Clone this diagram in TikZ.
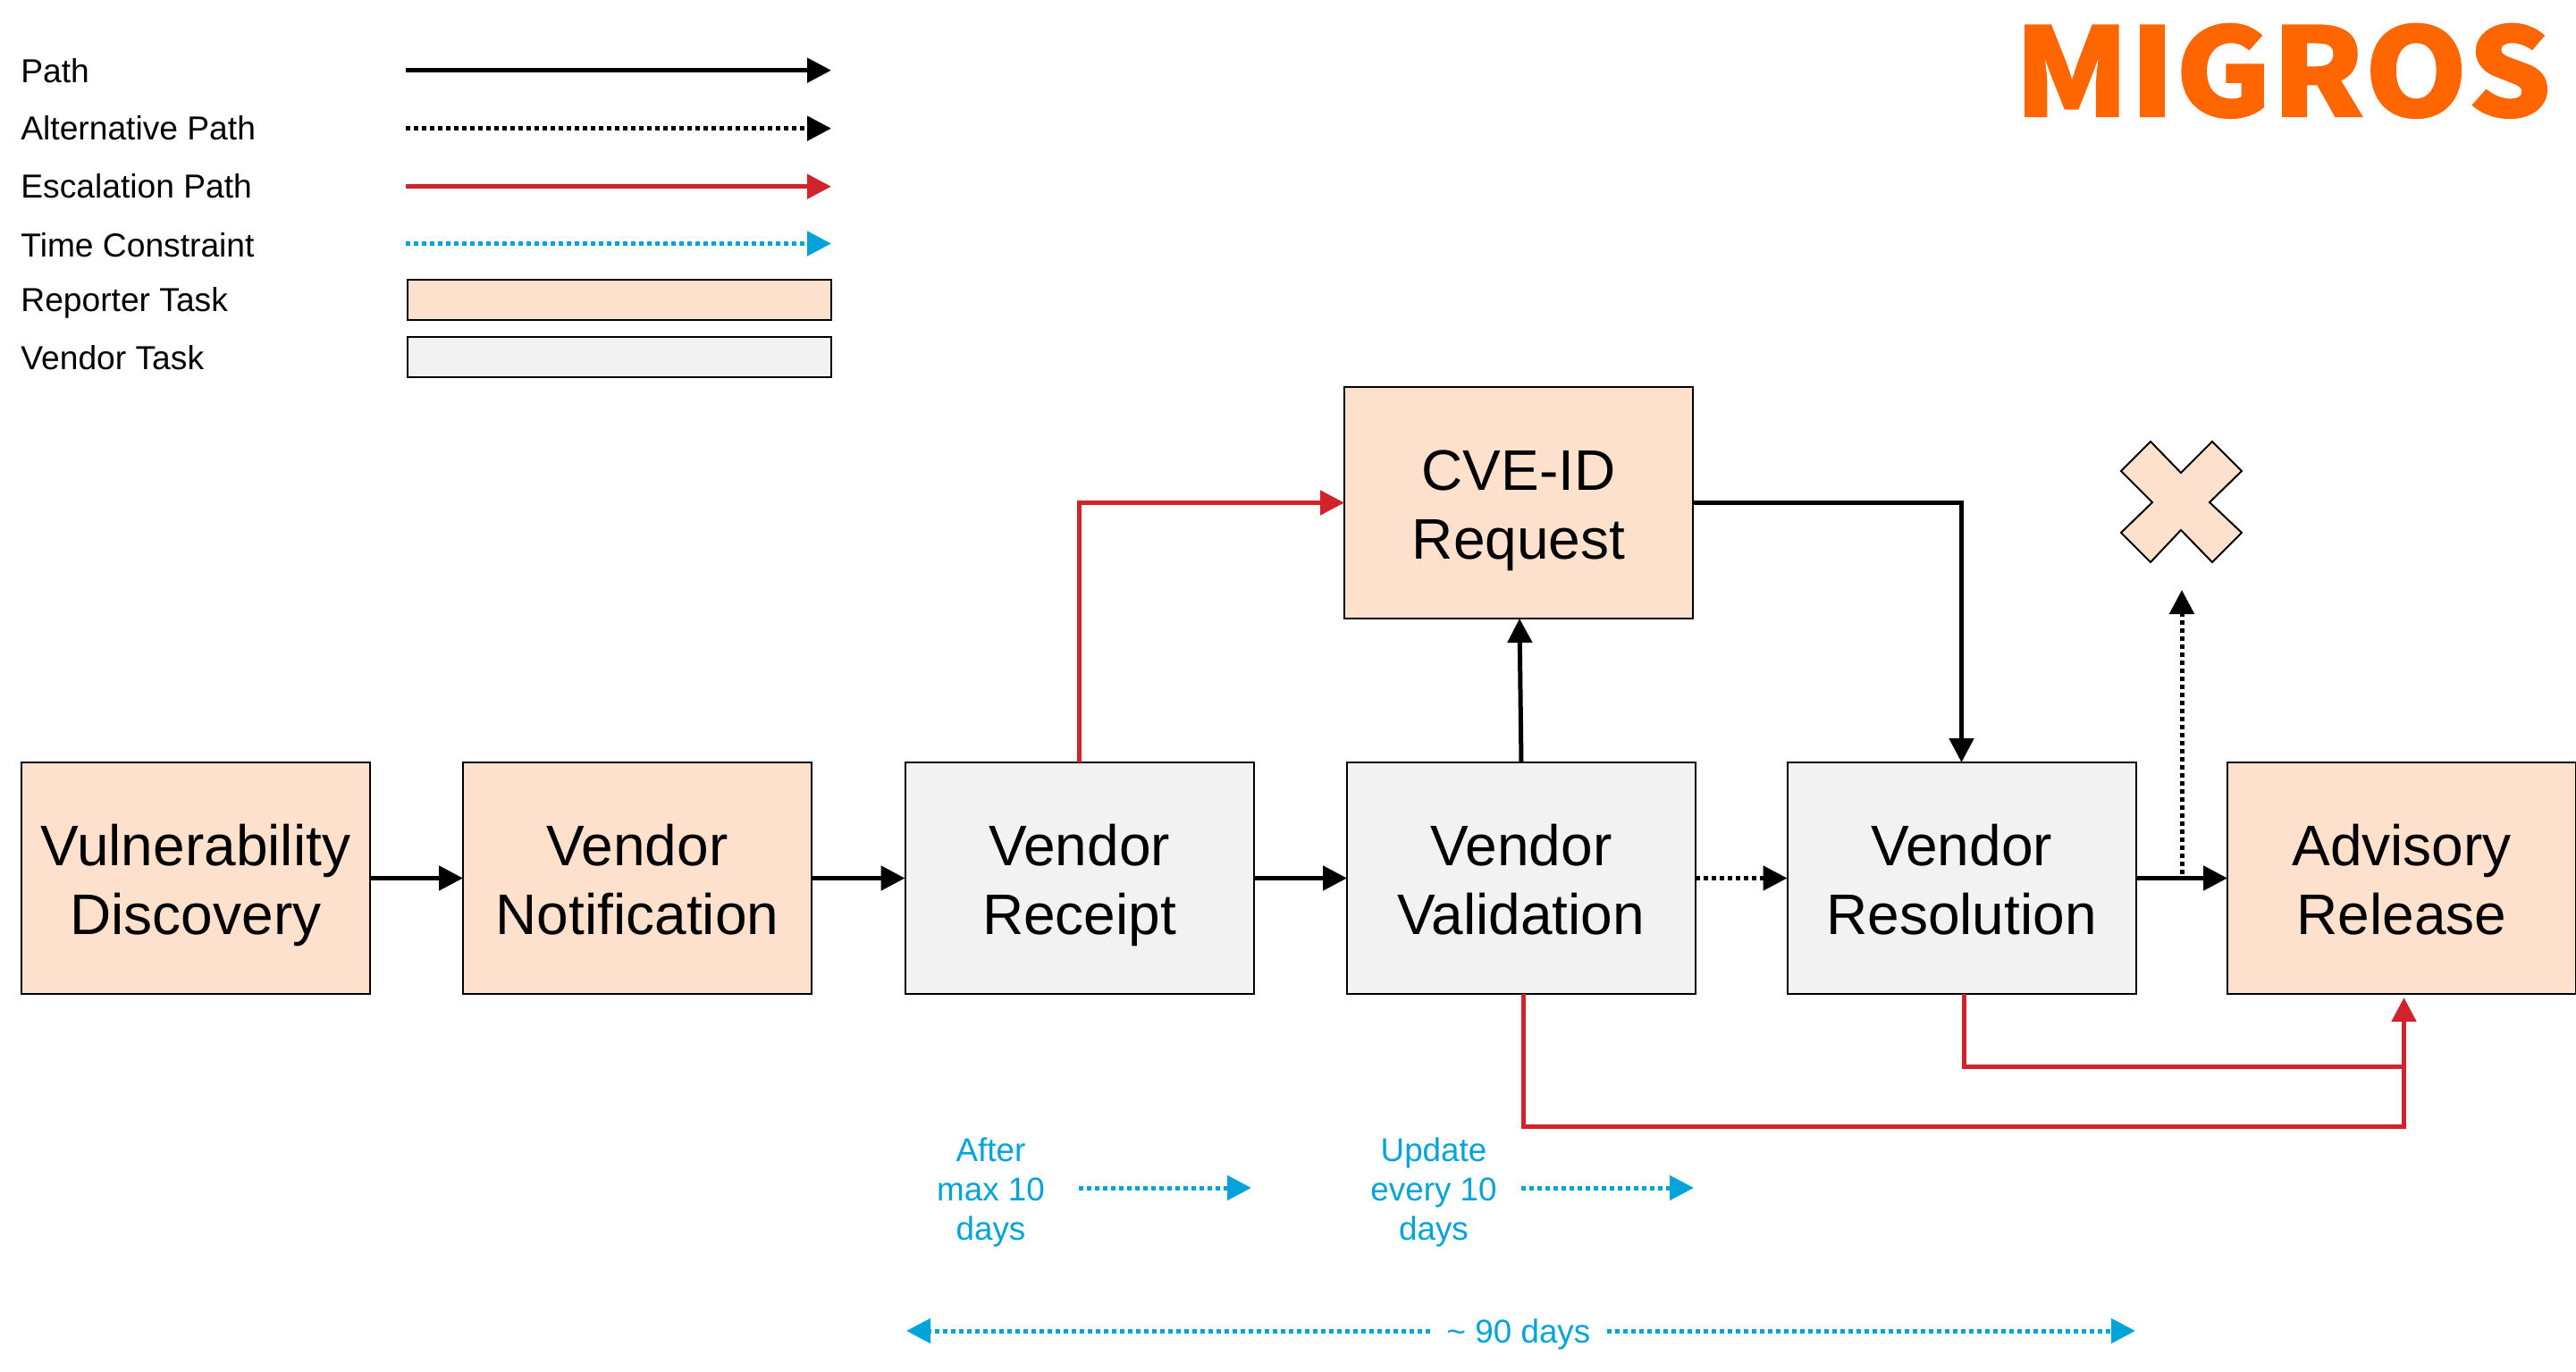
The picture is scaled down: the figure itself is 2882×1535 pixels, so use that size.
\documentclass[tikz,border=0pt]{standalone}
\usepackage{fontspec}
\setmainfont{Liberation Sans}
\usetikzlibrary{arrows.meta}
\definecolor{peach}{HTML}{FEE1CD}
\definecolor{vgray}{HTML}{F2F2F2}
\definecolor{redp}{HTML}{D0232B}
\definecolor{bluep}{HTML}{00A3DA}
\definecolor{orangem}{HTML}{FF6600}
\newcommand\hs{\rule{0pt}{33pt}}
\newcommand\ds{\rule[-8.4pt]{0pt}{8.4pt}}
\tikzset{
  x=0.5pt,y=-0.5pt,
  tip/.style={-{Triangle[length=13.5pt,width=13.5pt]}},
  pathline/.style={tip,line width=2.5pt,black},
  altline/.style={tip,line width=2.5pt,black,dash pattern=on 2.6pt off 1.9pt},
  escline/.style={tip,line width=2.5pt,redp},
  timeline/.style={tip,line width=2.5pt,bluep,dash pattern=on 2.6pt off 1.9pt},
  taskbox/.style={draw=black,line width=1pt,minimum width=195pt,minimum height=129.5pt,inner sep=0pt,outer sep=0pt,align=center,font=\fontsize{32}{38.5}\selectfont},
  reporter/.style={taskbox,fill=peach},
  vendor/.style={taskbox,fill=vgray},
  legtext/.style={anchor=base west,inner sep=0pt,font=\fontsize{18.6}{22}\selectfont},
  legbox/.style={draw=black,line width=1pt,minimum width=237pt,minimum height=22.5pt,inner sep=0pt,outer sep=0pt},
  timetext/.style={inner sep=0pt,align=center,text=bluep,font=\fontsize{18.4}{22}\selectfont},
}
\begin{document}
\begin{tikzpicture}
\useasboundingbox (0,0) rectangle (2882,1535);
% logo
\node[anchor=north west,inner sep=0pt,text=orangem] (logo) at (2253,26)
  {\resizebox{300.5pt}{52pt}{\fontspec{Noto Sans CJK SC Black}[FakeBold=1.2]MIGROS}};
% legend texts
\node[legtext] (l1) at (23,92.8) {Path};
\node[legtext] (l2) at (23,157) {Alternative Path};
\node[legtext] (l3) at (23,222) {Escalation Path};
\node[legtext] (l4) at (23,287.2) {Time Constraint};
\node[legtext] (l5) at (23,349) {Reporter Task};
\node[legtext] (l6) at (23,414) {Vendor Task};
\coordinate (a1s) at (454,78.7); \coordinate (a1e) at (930,78.7);
\coordinate (a2s) at (454,143.7); \coordinate (a2e) at (930,143.7);
\coordinate (a3s) at (454,208.7); \coordinate (a3e) at (930,208.7);
\coordinate (a4s) at (454,272.5); \coordinate (a4e) at (930,272.5);
\draw[pathline] (a1s) -- (a1e);
\draw[altline] (a2s) -- (a2e);
\draw[escline] (a3s) -- (a3e);
\draw[timeline] (a4s) -- (a4e);
\node[legbox,fill=peach] (lb1) at (692.5,335.2) {};
\node[legbox,fill=vgray] (lb2) at (692.5,399.7) {};
% main boxes
\node[reporter] (disc) at (219,982.5) {\hs Vulnerability\\\ds Discovery};
\node[reporter] (noti) at (713,982.5) {\hs Vendor\\\ds Notification};
\node[vendor] (rece) at (1207.5,982.5) {\hs Vendor\\\ds Receipt};
\node[vendor] (vali) at (1702,982.5) {\hs Vendor\\\ds Validation};
\node[vendor] (reso) at (2194.5,982.5) {\hs Vendor\\\ds Resolution};
\node[reporter] (advi) at (2687,982.5) {\hs Advisory\\\ds Release};
\node[reporter] (cve) at (1699,562.5) {\hs CVE-ID\\\ds Request};
% cross
\draw[fill=peach,draw=black,line width=1pt]
  (2406,494) -- (2440,529) -- (2475,494) -- (2508,527) -- (2472,562)
  -- (2508,596) -- (2475,629) -- (2440,593) -- (2406,629) -- (2373,596)
  -- (2408,562) -- (2373,527) -- cycle;
% connectors
\draw[pathline] (disc.east) -- (noti.west);
\draw[pathline] (noti.east) -- (rece.west);
\draw[pathline] (rece.east) -- (vali.west);
\draw[altline] (vali.east) -- (reso.west);
\draw[pathline] (reso.east) -- (advi.west);
\coordinate (xs) at (2441,978); \coordinate (xe) at (2441,660);
\draw[altline] (xs) -- (xe);
\draw[pathline] (vali.north) -- ([xshift=0.5pt]cve.south);
\draw[pathline] (cve.east) -| (reso.north);
\draw[escline] (rece.north) |- (cve.west);
\coordinate (advin) at (2689.5,1116);
\draw[redp,line width=2.5pt] ([xshift=1.25pt]reso.south) |- (2689.5,1193);
\draw[escline] ([xshift=1pt]vali.south) |- (2689.5,1260) -- (advin);
% time constraints
\node[timetext] (after) at (1108.5,1334) {After\\max 10\\days};
\node[timetext] (update) at (1604,1334) {Update\\every 10\\days};
\coordinate (t1s) at (1207,1329); \coordinate (t1e) at (1400,1329);
\coordinate (t2s) at (1702,1329); \coordinate (t2e) at (1895,1329);
\draw[timeline] (t1s) -- (t1e);
\draw[timeline] (t2s) -- (t2e);
\node[timetext,inner xsep=9pt] (ninety) at (1699,1494) {\strut\textasciitilde{} 90 days};
\coordinate (nl) at (1014,1489); \coordinate (nr) at (2389,1489);
\draw[timeline] (ninety.west |- nl) -- (nl);
\draw[timeline] (ninety.east |- nr) -- (nr);
\end{tikzpicture}
\end{document}
